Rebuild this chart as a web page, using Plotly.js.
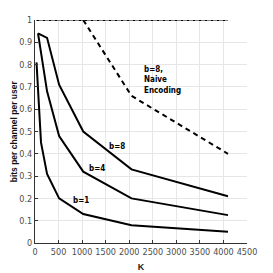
<!DOCTYPE html>
<html>
<head>
<meta charset="utf-8">
<script src="https://cdn.plot.ly/plotly-3.0.1.min.js"></script>
<style>html,body{margin:0;padding:0;background:#fff;}#chart{width:273px;height:273px;}</style>
</head>
<body>
<div id="chart"></div>
<script>
// Data
const kB1 = [32, 128, 256, 512, 1024, 2048, 4096];
const yB1 = [0.81, 0.45, 0.31, 0.20, 0.13, 0.08, 0.05];
const kB4 = [64, 128, 256, 512, 1024, 2048, 4096];
const yB4 = [0.94, 0.86, 0.68, 0.48, 0.32, 0.20, 0.125];
const kB8 = [64, 256, 512, 1024, 2048, 4096];
const yB8 = [0.94, 0.92, 0.71, 0.50, 0.33, 0.21];
const kNaive = [1024, 2048, 4096];
const yNaive = [1.0, 0.66, 0.40];
const kTop = [32, 4096];
const yTop = [1.0, 1.0];
const xTicks = [0, 500, 1000, 1500, 2000, 2500, 3000, 3500, 4000, 4500];
const yTicks = [0, 0.1, 0.2, 0.3, 0.4, 0.5, 0.6, 0.7, 0.8, 0.9, 1];
const yTickText = ['0', '0.1', '0.2', '0.3', '0.4', '0.5', '0.6', '0.7', '0.8', '0.9', '1'];

const narrow = '"Liberation Sans Narrow", "Arial Narrow", "DejaVu Sans Condensed", "Liberation Sans", Arial, sans-serif';
const line = (x, y, dash) => ({x: x, y: y, type: 'scatter', mode: 'lines',
  line: {color: '#000', width: 2, dash: dash || 'solid'}, hoverinfo: 'skip'});

const data = [
  line(kTop, yTop, '3px,1px,1px,1px'),
  line(kNaive, yNaive, '5px,4px'),
  line(kB8, yB8),
  line(kB4, yB4),
  line(kB1, yB1)
];

const ann = (x, y, t, xa) => ({x: x, y: y, text: t, showarrow: false, xanchor: xa || 'center',
  yanchor: 'middle', align: 'left', font: {family: narrow, size: 8, color: '#000'}});

const layout = {
  width: 273, height: 273,
  margin: {l: 35, r: 26, t: 20, b: 30},
  paper_bgcolor: '#fff', plot_bgcolor: '#fff',
  showlegend: false,
  font: {family: narrow, size: 9, color: '#444'},
  xaxis: {range: [0, 4500], tickvals: xTicks, ticktext: xTicks.map(String),
    showgrid: true, gridcolor: '#e6e6e6', gridwidth: 1, zeroline: false,
    showline: true, linecolor: '#333', linewidth: 1, ticks: 'inside', ticklen: 3, tickcolor: '#333',
    tickfont: {family: narrow, size: 9, color: '#4d4d4d'},
    title: {text: '<b>K</b>', font: {family: 'Liberation Sans, Arial, sans-serif', size: 9, color: '#222'}, standoff: 7}},
  yaxis: {range: [0, 1], tickvals: yTicks, ticktext: yTickText,
    showgrid: true, gridcolor: '#e6e6e6', gridwidth: 1, zeroline: false,
    showline: true, linecolor: '#333', linewidth: 1, ticks: 'inside', ticklen: 3, tickcolor: '#333',
    tickfont: {family: narrow, size: 9, color: '#4d4d4d'}},
  annotations: [
    ann(1740, 0.435, '<b>b=8</b>'),
    ann(1310, 0.332, '<b>b=4</b>'),
    ann(970, 0.19, '<b>b=1</b>'),
    ann(2270, 0.73, '<b>b=8,</b><br><b>Naive</b><br><b>Encoding</b>', 'left'),
    {xref: 'paper', yref: 'paper', x: -0.1, y: 0.5, xanchor: 'center', yanchor: 'middle',
     textangle: -90, showarrow: false, text: '<b>bits per channel per user</b>',
     font: {family: 'Liberation Sans, Arial, sans-serif', size: 8.5, color: '#111'}}
  ]
};

Plotly.newPlot('chart', data, layout, {staticPlot: true, displayModeBar: false});
</script>
</body>
</html>
